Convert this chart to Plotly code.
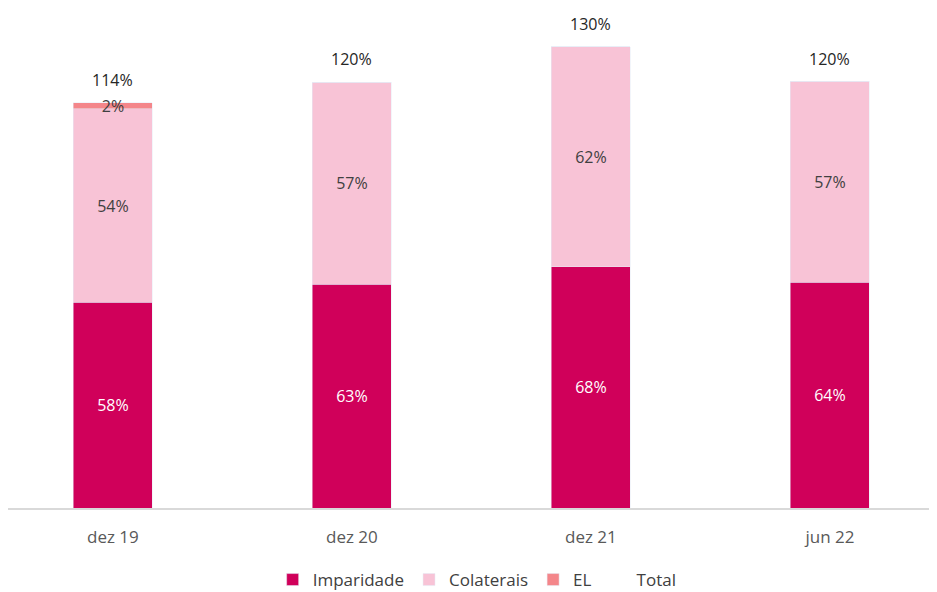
import plotly.graph_objects as go

categories = ["dez 19", "dez 20", "dez 21", "jun 22"]
imparidade = [58.0, 63.0, 68.0, 63.6]
colaterais = [54.4, 57.0, 62.0, 56.6]
el = [1.7, 0, 0, 0]
total = [114, 120, 130, 120]

FONT = "Open Sans"
SZ = 16
fig = go.Figure()
fig.add_trace(go.Bar(
    x=categories, y=imparidade, name="Imparidade", marker_color="#D0005A",
    text=[f"{v:.0f}%" for v in imparidade], textposition="inside",
    insidetextanchor="middle", textfont=dict(color="white", size=SZ, family=FONT),
    constraintext="none", width=0.33))
fig.add_trace(go.Bar(
    x=categories, y=colaterais, name="Colaterais", marker_color="#F8C3D6",
    text=[f"{v:.0f}%" for v in colaterais], textposition="inside",
    insidetextanchor="middle", textfont=dict(color="#404040", size=SZ, family=FONT),
    constraintext="none", width=0.33))
fig.add_trace(go.Bar(
    x=categories, y=el, name="EL", marker_color="#F4868A",
    text=[f"{v:.0f}%" if v > 0 else "" for v in el], textposition="inside",
    insidetextanchor="middle", textfont=dict(color="#404040", size=SZ, family=FONT),
    constraintext="none", width=0.33))
fig.add_trace(go.Scatter(
    x=categories, y=total, name="Total", mode="markers",
    marker=dict(color="rgba(0,0,0,0)", size=8)))

for c, t in zip(categories, total):
    fig.add_annotation(x=c, y=t, text=f"{t}%", showarrow=False, yanchor="middle",
                       yshift=23, font=dict(color="#262626", size=SZ, family=FONT))

fig.update_layout(
    barmode="stack", width=929, height=584,
    margin=dict(l=0, r=0, t=3, b=84),
    plot_bgcolor="white", paper_bgcolor="white",
    font=dict(family=FONT, color="#595959"),
    xaxis=dict(range=[-0.439, 3.448], showline=True, linecolor="#D9D9D9", linewidth=1.5,
               tickfont=dict(size=17, color="#595959"), ticks="", ticklabelstandoff=13,
               showgrid=False, automargin=False),
    yaxis=dict(range=[0, 140], visible=False, showgrid=False, automargin=False),
    legend=dict(orientation="h", xref="container", yref="container",
                x=0.505, xanchor="center", y=0.0205, yanchor="middle",
                font=dict(size=17, color="#404040"), traceorder="normal", itemwidth=30),
)
fig.write_html("out.html")
